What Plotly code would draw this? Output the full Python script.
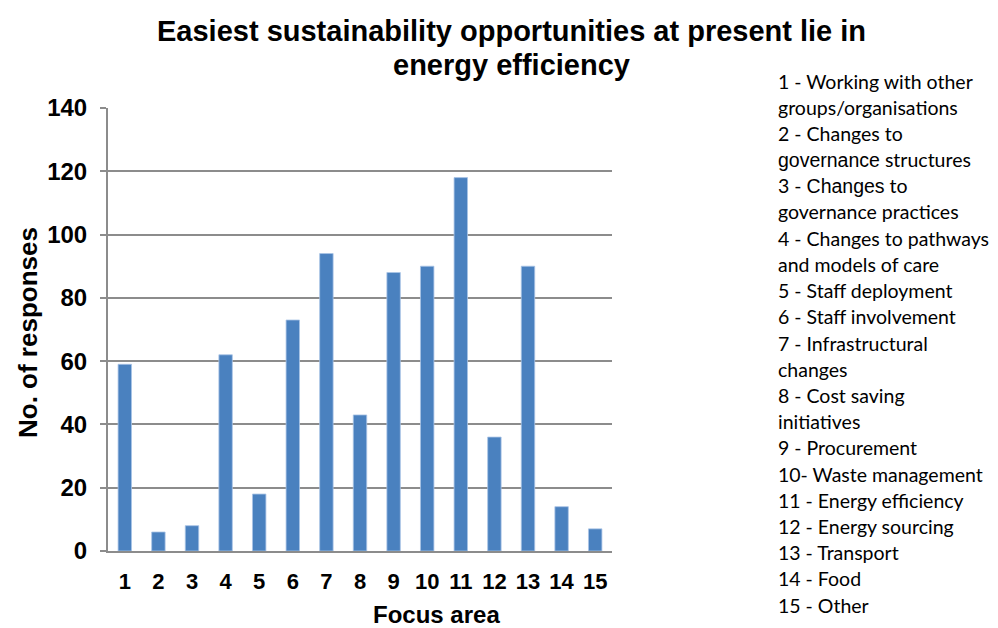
import plotly.graph_objects as go

# Survey results: number of responses per focus area
focus_areas = [str(i) for i in range(1, 16)]
responses = [59, 6, 8, 62, 18, 73, 94, 43, 88, 90, 118, 36, 90, 14, 7]

y_ticks = [0, 20, 40, 60, 80, 100, 120, 140]

key_lines = [
    "1 - Working with other",
    "groups/organisations",
    "2 - Changes to",
    "<span style=\"font-family:'Liberation Sans'\">governance</span> structures",
    "3 - <span style=\"font-family:'Liberation Sans'\">Changes</span> to",
    "governance practices",
    "4 - Changes to pathways",
    "and models of care",
    "5 - Staff deployment",
    "6 - Staff involvement",
    "7 - Infrastructural",
    "changes",
    "8 - Cost saving",
    "initiatives",
    "9 - Procurement",
    "10- Waste management",
    "11 - Energy efficiency",
    "12 - Energy sourcing",
    "13 - Transport",
    "14 - Food",
    "15 - Other",
]

W, H = 998, 628
M_L, M_R, M_T, M_B = 108, 386, 108, 77

BAR = "#4a81bf"
GRID = "#8c8c8c"
TXT = "#000000"
BOLD_FONT = "Liberation Sans"

fig = go.Figure(
    go.Bar(
        x=focus_areas,
        y=responses,
        marker=dict(color=BAR, line=dict(color="#a9c4e6", width=0.8)),
        width=0.4,
        hoverinfo="x+y",
    )
)

fig.update_layout(
    width=W,
    height=H,
    margin=dict(l=M_L, r=M_R, t=M_T, b=M_B, pad=0),
    paper_bgcolor="white",
    plot_bgcolor="white",
    showlegend=False,
    font=dict(family=BOLD_FONT, color=TXT),
)

fig.update_xaxes(
    type="category",
    showline=True,
    linecolor=GRID,
    linewidth=2,
    showgrid=False,
    ticks="",
    tickfont=dict(family=BOLD_FONT, size=22, color=TXT, weight="bold"),
    ticklabelstandoff=10,
)

fig.update_yaxes(
    range=[0, 140],
    tickvals=y_ticks,
    showline=True,
    linecolor=GRID,
    linewidth=2,
    showgrid=True,
    gridcolor=GRID,
    gridwidth=1.5,
    zeroline=False,
    ticks="outside",
    ticklen=6,
    tickwidth=1.5,
    tickcolor=GRID,
    tickfont=dict(family=BOLD_FONT, size=24, color=TXT, weight="bold"),
    ticklabelstandoff=8,
)

def px_x(px):
    return (px - M_L) / (W - M_L - M_R)

def px_y(py):
    return (H - M_B - py) / (H - M_T - M_B)

annotations = [
    dict(
        text="<b>Easiest sustainability opportunities at present lie in</b>",
        x=px_x(511), y=px_y(31), xref="paper", yref="paper",
        xanchor="center", yanchor="middle", showarrow=False,
        font=dict(family=BOLD_FONT, size=29, color=TXT),
    ),
    dict(
        text="<b>energy efficiency</b>",
        x=px_x(511), y=px_y(65), xref="paper", yref="paper",
        xanchor="center", yanchor="middle", showarrow=False,
        font=dict(family=BOLD_FONT, size=29, color=TXT),
    ),
    dict(
        text="<b>Focus area</b>",
        x=px_x(436), y=px_y(614), xref="paper", yref="paper",
        xanchor="center", yanchor="middle", showarrow=False,
        font=dict(family=BOLD_FONT, size=24, color=TXT),
    ),
    dict(
        text="<b>No. of responses</b>",
        x=px_x(28), y=px_y(333), xref="paper", yref="paper",
        xanchor="center", yanchor="middle", showarrow=False, textangle=-90,
        font=dict(family=BOLD_FONT, size=26, color=TXT),
    ),
]

# Category key listed down the right-hand side
for i, line in enumerate(key_lines):
    annotations.append(
        dict(
            text=line,
            x=px_x(776), y=px_y(81 + i * 26.2), xref="paper", yref="paper",
            xanchor="left", yanchor="middle", showarrow=False,
            font=dict(family="Lato", size=19.5, color=TXT),
        )
    )

fig.update_layout(annotations=annotations)

fig.write_html("out.html")
